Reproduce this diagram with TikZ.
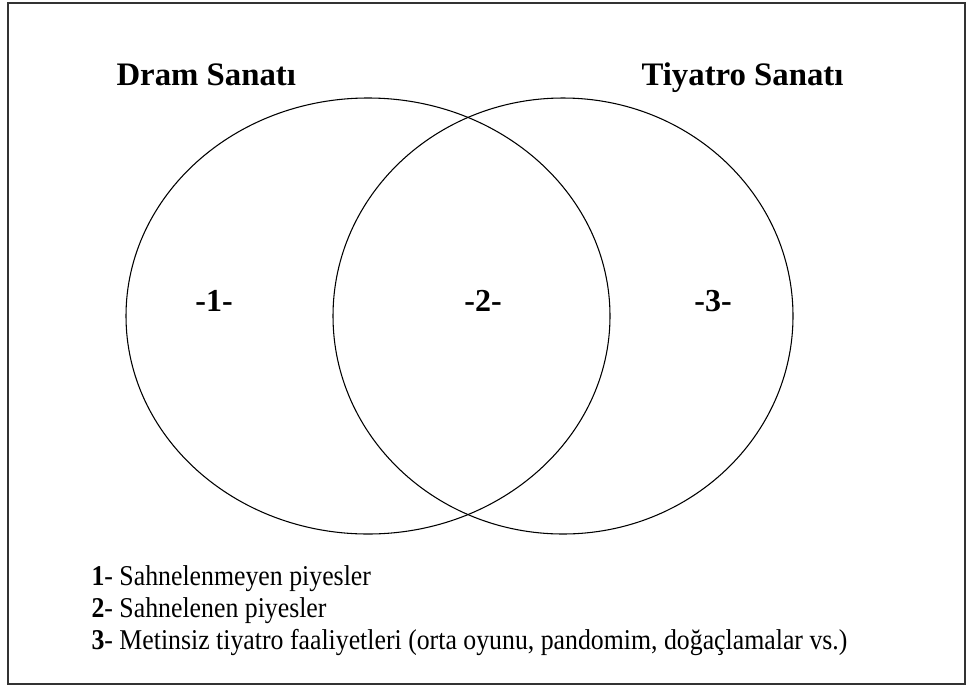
\documentclass[tikz,border=0pt]{standalone}
\usepackage{fontspec}
\setmainfont{Liberation Serif}
\newfontfamily\darserif[FakeStretch=0.9]{Liberation Serif}

\begin{document}
\begin{tikzpicture}[x=0.75pt,y=-0.75pt,line width=0.8pt]
    \tikzset{
      baslik/.style={font=\fontsize{24.6}{28}\selectfont\bfseries,
        anchor=base west, inner sep=0pt},
      bolge/.style={font=\fontsize{24}{28}\selectfont\bfseries,
        anchor=base, inner sep=0pt},
      aciklama/.style={font=\darserif\fontsize{21.5}{25}\selectfont,
        anchor=base west, inner sep=0pt}
    }
    \useasboundingbox (0,0) rectangle (966,686);
    \draw[line width=1.5pt, black!80] (8,3) rectangle (965,684);
    % kumeler
    \draw (368,316) ellipse [x radius=242, y radius=218];
    \draw (563,316) ellipse [x radius=230, y radius=218];
    \node[baslik] (dram) at (116,85) {Dram Sanatı};
    \node[baslik] (tiyatro) at (641,85) {Tiyatro Sanatı};
    \foreach \n/\x in {1/214,2/483,3/713}{
        \node[bolge] (b\n) at (\x,311) {-\n-};
      }
    % aciklamalar
    \foreach \n/\t in {1/{Sahnelenmeyen piyesler},
        2/{Sahnelenen piyesler},
        3/{Metinsiz tiyatro faaliyetleri (orta oyunu, pandomim, doğaçlamalar vs.)}}{
        \node[aciklama] (a\n) at (91,{585+32*(\n-1)}) {\textbf{\n}- \t};
      }
\end{tikzpicture}
\end{document}
